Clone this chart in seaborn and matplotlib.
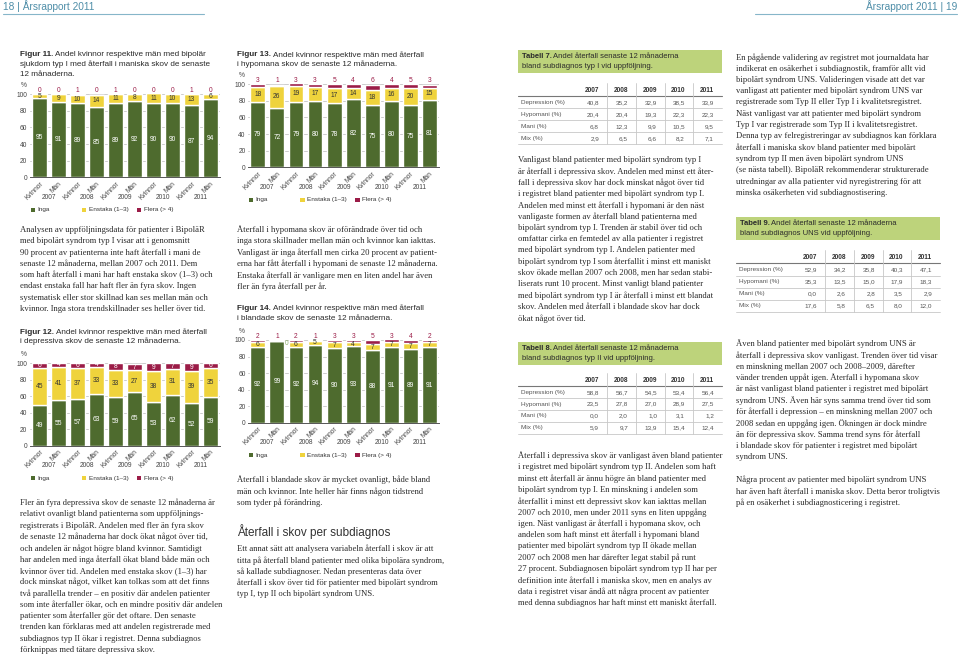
import numpy as np
import pandas as pd
import matplotlib.pyplot as plt
import seaborn as sns
from matplotlib.patches import Rectangle

# Diagramdata (andel i procent), ordning: 2007 K, 2007 M, 2008 K, ...
years = ["2007", "2008", "2009", "2010", "2011"]
kon = ["Kvinnor", "Män"]
serier = ["Inga", "Enstaka (1–3)", "Flera (> 4)"]

mani_inga = [95, 91, 89, 85, 89, 92, 90, 90, 87, 94]
mani_enstaka = [5, 9, 10, 14, 11, 8, 11, 10, 13, 6]
mani_flera = [0, 0, 1, 0, 1, 0, 0, 0, 1, 0]

dep_inga = [49, 55, 57, 63, 59, 65, 53, 62, 52, 59]
dep_enstaka = [45, 41, 37, 33, 33, 27, 38, 31, 39, 35]
dep_flera = [6, 4, 6, 4, 8, 7, 9, 7, 9, 6]

hyp_inga = [79, 72, 79, 80, 78, 82, 75, 80, 75, 81]
hyp_enstaka = [18, 26, 19, 17, 17, 14, 18, 16, 20, 15]
hyp_flera = [3, 1, 3, 3, 5, 4, 6, 4, 5, 3]

bl_inga = [92, 99, 92, 94, 90, 93, 88, 91, 89, 91]
bl_enstaka = [6, 0, 6, 5, 7, 4, 7, 7, 7, 7]
bl_flera = [2, 1, 2, 1, 3, 3, 5, 3, 4, 2]

# Tabelldata
tab_rader = ["Depression (%)", "Hypomani (%)", "Mani (%)", "Mix (%)"]
t7_depression = [40.8, 35.2, 32.9, 38.5, 33.9]
t7_hypomani = [20.4, 20.4, 19.3, 22.3, 22.3]
t7_mani = [6.8, 12.3, 9.9, 10.5, 9.5]
t7_mix = [2.9, 6.5, 6.6, 8.2, 7.1]
t8_depression = [58.8, 56.7, 54.5, 53.4, 56.4]
t8_hypomani = [23.5, 27.8, 27.0, 28.9, 27.5]
t8_mani = [0.0, 2.0, 1.0, 3.1, 1.2]
t8_mix = [5.9, 9.7, 13.9, 15.4, 12.4]
t9_depression = [52.9, 34.2, 35.8, 40.3, 47.1]
t9_hypomani = [35.3, 13.5, 15.0, 17.9, 18.3]
t9_mani = [0.0, 2.6, 2.8, 3.5, 2.9]
t9_mix = [17.6, 5.8, 6.5, 8.0, 12.0]

GREEN = "#4e6b2e"
YELLOW = "#efd33c"
CRIMSON = "#9b1c47"
TABGREEN = "#bdd37b"
TEXT = "#2b2b2b"
SANS = ["Liberation Sans", "DejaVu Sans"]
SERIF = ["Liberation Serif", "DejaVu Serif"]

sns.set_style("white")
plt.rcParams["font.family"] = SANS

W, H = 960, 657
fig = plt.figure(figsize=(9.6, 6.57), dpi=100)
page = fig.add_axes([0, 0, 1, 1])
page.set_xlim(0, W)
page.set_ylim(H, 0)
page.axis("off")
renderer = fig.canvas.get_renderer()

BODY = 6.2
CAP = 5.85


def body(x, y0, lines, dy=11.3):
    for k, s in enumerate(lines):
        page.text(x, y0 + k * dy, s, fontsize=BODY, family=SERIF, color=TEXT, va="center")


def caption(x, y0, bold, lines, dy=9.6, size=CAP):
    t = page.text(x, y0, bold, fontsize=size, fontweight="bold", color=TEXT, va="center")
    w = t.get_window_extent(renderer).width
    page.text(x + w + 2, y0, lines[0], fontsize=size, color=TEXT, va="center")
    for k, s in enumerate(lines[1:], start=1):
        page.text(x, y0 + k * dy, s, fontsize=size, color=TEXT, va="center")


grupper = [f"{y} {k}" for y in years for k in kon]


def stapel(box, inga, enstaka, flera, flera_inne=False):
    x0, x1, ytop, ybot = box
    ax = fig.add_axes([x0 / W, 1 - ybot / H, (x1 - x0) / W, (ybot - ytop) / H])
    df = pd.DataFrame({"grupp": grupper, "Inga": inga, "Enstaka": enstaka, "Flera": flera})
    botten = np.zeros(len(df))
    for kol, farg in zip(["Inga", "Enstaka", "Flera"], [GREEN, YELLOW, CRIMSON]):
        sns.barplot(data=df, x="grupp", y=kol, order=grupper, color=farg, saturation=1,
                    width=0.78, errorbar=None, bottom=botten, ax=ax, zorder=2)
        botten = botten + df[kol].to_numpy()

    fs = 4.8
    for i, (a, b, c) in enumerate(zip(inga, enstaka, flera)):
        ax.text(i, a / 2, str(a), color="white", fontsize=fs, ha="center", va="center")
        if b > 0:
            ax.text(i, a + b / 2, str(b), color="#333333", fontsize=fs, ha="center", va="center")
        else:
            ax.text(i + 0.52, a - 3, str(b), color="#8fae6a", fontsize=fs, ha="center", va="center")
        if flera_inne:
            ax.text(i, a + b + c / 2, str(c), color="white", fontsize=fs, ha="center", va="center")
        else:
            ax.text(i, 104.5, str(c), color=CRIMSON, fontsize=fs, ha="center", va="center", clip_on=False)

    ax.set_ylim(0, 100)
    ax.set_yticks(range(0, 101, 20))
    ax.set_xticks(range(len(grupper)))
    ax.set_xticklabels(kon * len(years), rotation=45, ha="right", rotation_mode="anchor")
    ax.tick_params(axis="both", length=0, labelsize=4.8, colors="#444444", pad=2)
    ax.grid(axis="y", color="#c4c4c4", lw=0.6)
    ax.set_axisbelow(True)
    sns.despine(ax=ax, left=True)
    ax.spines["bottom"].set_color("#555555")
    ax.spines["bottom"].set_linewidth(0.7)
    ax.set_xlabel("")
    ax.set_ylabel("")
    h = ybot - ytop
    for j, yr in enumerate(years):
        ax.text(2 * j + 0.5, -20 / h, yr, transform=ax.get_xaxis_transform(),
                fontsize=4.8, color="#444444", ha="center", va="center")
    ax.text(-0.035, 1 + 8.5 / h, "%", transform=ax.transAxes, fontsize=4.8,
            color="#444444", ha="center", va="center")

    # förklaring under diagrammet
    ly = ybot + 32.5
    for off, lab, farg in zip([0.5, 52, 107], serier, [GREEN, YELLOW, CRIMSON]):
        page.add_patch(Rectangle((x0 + off, ly - 2.2), 4.4, 4.4, color=farg, lw=0))
        page.text(x0 + off + 7, ly, lab, fontsize=4.6, color="#333333", va="center")
    return ax


def tabell(x0, ytop, nr, rubrik, varden, y_head, dy):
    page.add_patch(Rectangle((x0, ytop), 204, 23, color=TABGREEN, lw=0))
    caption(x0 + 3.5, ytop + 6.6, f"Tabell {nr}.", rubrik, dy=10.2, size=5.5)
    vx = [81, 110, 139, 167, 196]
    for xv, yr in zip(vx, years):
        page.text(x0 + xv, y_head, yr, fontsize=4.7, fontweight="bold", color="#333333",
                  ha="right", va="center")
    ys = [y_head + 12.3 + k * dy for k in range(len(varden))]
    page.plot([x0, x0 + 204], [y_head + 6, y_head + 6], color="#777777", lw=0.8)
    for y, lab, rad in zip(ys, tab_rader, varden):
        page.text(x0 + 3, y, lab, fontsize=4.6, color="#555555", va="center")
        for xv, v in zip(vx, rad):
            page.text(x0 + xv, y, f"{v:.1f}".replace(".", ","), fontsize=4.6,
                      color="#555555", ha="right", va="center")
        page.plot([x0, x0 + 204], [y + 6, y + 6], color="#c8c8c8", lw=0.6)
    for xl in [89, 117.5, 146.5, 175]:
        page.plot([x0 + xl, x0 + xl], [y_head - 7, ys[-1] + 6], color="#c8c8c8", lw=0.6)


# sidhuvud
page.text(3, 6, "18 | Årsrapport 2011", fontsize=7.3, color="#4f8ea8", va="center")
page.text(957, 6, "Årsrapport 2011 | 19", fontsize=7.3, color="#4f8ea8", va="center", ha="right")
page.plot([3, 204], [14, 14], color="#86b6c9", lw=0.8)
page.plot([755, 957], [14, 14], color="#86b6c9", lw=0.8)

# vänster spalt
caption(20, 55, "Figur 11.", ["Andel kvinnor respektive män med bipolär",
                              "sjukdom typ I med återfall i maniska skov de senaste",
                              "12 månaderna."])
stapel((30, 220, 94.3, 177.3), mani_inga, mani_enstaka, mani_flera)
body(20, 230, [
    "Analysen av uppföljningsdata för patienter i BipoläR",
    "med bipolärt syndrom typ I visar att i genomsnitt",
    "90 procent av patienterna inte haft återfall i mani de",
    "senaste 12 månaderna, mellan 2007 och 2011. Dem",
    "som haft återfall i mani har haft enstaka skov (1–3) och",
    "endast enstaka fall har haft fler än fyra skov. Ingen",
    "systematisk eller stor skillnad kan ses mellan män och",
    "kvinnor. Inga stora trendskillnader ses heller över tid.",
])
caption(20, 332, "Figur 12.", ["Andel kvinnor respektive män med återfall",
                              "i depressiva skov de senaste 12 månaderna."])
stapel((30, 220, 363.3, 445.7), dep_inga, dep_enstaka, dep_flera, flera_inne=True)
body(20, 503, [
    "Fler än fyra depressiva skov de senaste 12 månaderna är",
    "relativt ovanligt bland patienterna som uppföljnings-",
    "registrerats i BipoläR. Andelen med fler än fyra skov",
    "de senaste 12 månaderna har dock ökat något över tid,",
    "och andelen är något högre bland kvinnor. Samtidigt",
    "har andelen med inga återfall ökat bland både män och",
    "kvinnor över tid. Andelen med enstaka skov (1–3) har",
    "dock minskat något, vilket kan tolkas som att det finns",
    "två parallella trender – en positiv där andelen patienter",
    "som inte återfaller ökar, och en mindre positiv där andelen",
    "patienter som återfaller gör det oftare. Den senaste",
    "trenden kan förklaras med att andelen registrerade med",
    "subdiagnos typ II ökar i registret. Denna subdiagnos",
    "förknippas med tätare depressiva skov.",
])

# mittspalt
caption(237, 55, "Figur 13.", ["Andel kvinnor respektive män med återfall",
                               "i hypomana skov de senaste 12 månaderna."])
stapel((248.3, 439, 84.3, 167.3), hyp_inga, hyp_enstaka, hyp_flera)
body(237, 230, [
    "Återfall i hypomana skov är oförändrade över tid och",
    "inga stora skillnader mellan män och kvinnor kan iakttas.",
    "Vanligast är inga återfall men cirka 20 procent av patient-",
    "erna har fått återfall i hypomani de senaste 12 månaderna.",
    "Enstaka återfall är vanligare men en liten andel har även",
    "fler än fyra återfall per år.",
])
caption(237, 308.5, "Figur 14.", ["Andel kvinnor respektive män med återfall",
                                  "i blandade skov de senaste 12 månaderna."])
stapel((248.3, 439, 340, 422.7), bl_inga, bl_enstaka, bl_flera)
body(237, 480, [
    "Återfall i blandade skov är mycket ovanligt, både bland",
    "män och kvinnor. Inte heller här finns någon tidstrend",
    "som tyder på förändring.",
])
page.text(237, 532, "Återfall i skov per subdiagnos", fontsize=8.5, color="#333333", va="center")
body(237, 549, [
    "Ett annat sätt att analysera variabeln återfall i skov är att",
    "titta på återfall bland patienter med olika bipolära syndrom,",
    "så kallade subdiagnoser. Nedan presenteras data över",
    "återfall i skov över tid för patienter med bipolärt syndrom",
    "typ I, typ II och bipolärt syndrom UNS.",
])

# höger sida, första spalten
tabell(518, 49.5, 7, ["Andel återfall senaste 12 månaderna",
                      "bland subdiagnos typ I vid uppföljning."],
       [t7_depression, t7_hypomani, t7_mani, t7_mix], 90, 12)
body(518, 160, [
    "Vanligast bland patienter med bipolärt syndrom typ I",
    "är återfall i depressiva skov. Andelen med minst ett åter-",
    "fall i depressiva skov har dock minskat något över tid",
    "i registret bland patienter med bipolärt syndrom typ I.",
    "Andelen med minst ett återfall i hypomani är den näst",
    "vanligaste formen av återfall bland patienterna med",
    "bipolärt syndrom typ I. Trenden är stabil över tid och",
    "omfattar cirka en femtedel av alla patienter i registret",
    "med bipolärt syndrom typ I. Andelen patienter med",
    "bipolärt syndrom typ I som återfallit i minst ett maniskt",
    "skov ökade mellan 2007 och 2008, men har sedan stabi-",
    "liserats runt 10 procent. Minst vanligt bland patienter",
    "med bipolärt syndrom typ I är återfall i minst ett blandat",
    "skov. Andelen med återfall i blandade skov har dock",
    "ökat något över tid.",
])
tabell(518, 342, 8, ["Andel återfall senaste 12 månaderna",
                     "bland subdiagnos typ II vid uppföljning."],
       [t8_depression, t8_hypomani, t8_mani, t8_mix], 380, 11.8)
body(518, 456, [
    "Återfall i depressiva skov är vanligast även bland patienter",
    "i registret med bipolärt syndrom typ II. Andelen som haft",
    "minst ett återfall är ännu högre än bland patienter med",
    "bipolärt syndrom typ I. En minskning i andelen som",
    "återfallit i minst ett depressivt skov kan iakttas mellan",
    "2007 och 2010, men under 2011 syns en liten uppgång",
    "igen. Näst vanligast är återfall i hypomana skov, och",
    "andelen som haft minst ett återfall i hypomani bland",
    "patienter med bipolärt syndrom typ II ökade mellan",
    "2007 och 2008 men har därefter legat stabil på runt",
    "27 procent. Subdiagnosen bipolärt syndrom typ II har per",
    "definition inte återfall i maniska skov, men en analys av",
    "data i registret visar ändå att några procent av patienter",
    "med denna subdiagnos har haft minst ett maniskt återfall.",
])

# höger sida, andra spalten
body(736, 57.3, [
    "En pågående validering av registret mot journaldata har",
    "indikerat en osäkerhet i subdiagnostik, framför allt vid",
    "bipolärt syndrom UNS. Valideringen visade att det var",
    "vanligast att patienter med bipolärt syndrom UNS var",
    "registrerade som Typ II eller Typ I i kvalitetsregistret.",
    "Näst vanligast var att patienter med bipolärt syndrom",
    "Typ I var registrerade som Typ II i kvalitetsregistret.",
    "Denna typ av felregistreringar av subdiagnos kan förklara",
    "återfall i maniska skov bland patienter med bipolärt",
    "syndrom typ II men även bipolärt syndrom UNS",
    "(se nästa tabell). BipoläR rekommenderar strukturerade",
    "utredningar av alla patienter vid nyregistrering för att",
    "minska osäkerheten vid subdiagnostisering.",
])
tabell(736, 216.7, 9, ["Andel återfall senaste 12 månaderna",
                       "bland subdiagnos UNS vid uppföljning."],
       [t9_depression, t9_hypomani, t9_mani, t9_mix], 257.3, 12)
body(736, 344, [
    "Även bland patienter med bipolärt syndrom UNS är",
    "återfall i depressiva skov vanligast. Trenden över tid visar",
    "en minskning mellan 2007 och 2008–2009, därefter",
    "vänder trenden uppåt igen. Återfall i hypomana skov",
    "är näst vanligast bland patienter i registret med bipolärt",
    "syndrom UNS. Även här syns samma trend över tid som",
    "för återfall i depression – en minskning mellan 2007 och",
    "2008 sedan en uppgång igen. Ökningen är dock mindre",
    "än för depressiva skov. Samma trend syns för återfall",
    "i blandade skov för patienter i registret med bipolärt",
    "syndrom UNS.",
])
body(736, 480, [
    "Några procent av patienter med bipolärt syndrom UNS",
    "har även haft återfall i maniska skov. Detta beror troligtvis",
    "på en osäkerhet i subdiagnosticering i registret.",
])

plt.savefig("out.png", dpi=100)
